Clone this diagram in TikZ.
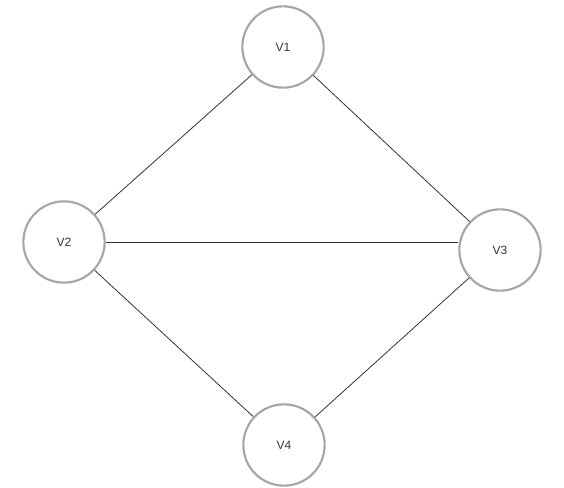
\documentclass[tikz,border=0pt]{standalone}
\usepackage{fontspec}
\setmainfont{Liberation Sans}
\usetikzlibrary{positioning}
\definecolor{ringgray}{HTML}{A6A6A6}
\definecolor{txtgray}{HTML}{333333}

\begin{document}
\begin{tikzpicture}[x=0.75pt, y=-0.75pt,
  every node/.style={font=\fontsize{9}{11}\selectfont, text=txtgray},
  vert/.style={draw=ringgray, circle, line width=1.6pt, minimum size=61pt, inner sep=0pt},
  link/.style={draw=black!80, line width=0.6pt}]
\useasboundingbox (0,0) rectangle (564,488);
\node[vert] (V1) at (283,47) {V1};
\node[vert] (V2) at (64,242) {V2};
\node[vert] (V3) at (500,250) {V3};
\node[vert] (V4) at (284,445) {V4};
\draw[link] (V1) -- (V2);
\draw[link] (V1) -- (V3);
\draw[link] (V2.east) -- (V2.east -| V3.west);
\draw[link] (V2) -- (V4);
\draw[link] (V3) -- (V4);
\end{tikzpicture}
\end{document}
